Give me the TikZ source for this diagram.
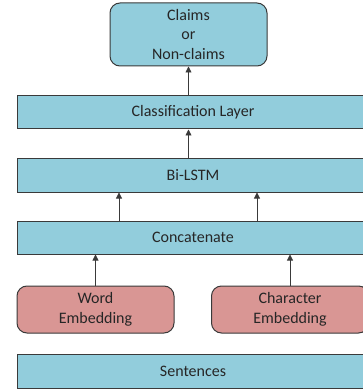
\documentclass[tikz,border=0pt]{standalone}
\usepackage{fontspec}
\setmainfont{Carlito}
\usetikzlibrary{arrows.meta}
\definecolor{boxblue}{HTML}{92CDDC}
\definecolor{boxpink}{HTML}{D99694}
\definecolor{edgegray}{HTML}{3A3A3A}
\definecolor{txt}{HTML}{262626}
\begin{document}
\begin{tikzpicture}[x=1pt,y=-1pt,
  layer/.style={draw=edgegray,line width=1pt,fill=boxblue,text=txt,font=\fontsize{16}{19.5}\selectfont,inner sep=0pt,align=center},
  emb/.style={draw=edgegray,line width=1pt,fill=boxpink,text=txt,rounded corners=10pt,font=\fontsize{16}{19.5}\selectfont,inner sep=0pt,align=center},
  arr/.style={draw=edgegray,line width=0.8pt,-{Triangle[width=6pt,length=6pt]}}]
\useasboundingbox (0,0) rectangle (363,390);
\clip (0,0) rectangle (363,390);
\fill[white] (0,0) rectangle (363,390);
\node[emb,fill=boxblue,minimum width=157pt,minimum height=63pt] (out) at (188.5,34.5) {Claims\\or\\Non-claims};
\node[layer,minimum width=352pt,minimum height=33pt] (cls) at (193,112.5) {Classification Layer};
\node[layer,minimum width=352pt,minimum height=34pt] (lstm) at (193,175) {Bi-LSTM};
\node[layer,minimum width=352pt,minimum height=33pt] (cat) at (193,237.5) {Concatenate};
\node[emb,minimum width=157pt,minimum height=47pt] (word) at (95.5,309.5) {Word\\Embedding};
\node[emb,minimum width=157pt,minimum height=47pt] (char) at (290,309.5) {Character\\Embedding};
\node[layer,minimum width=352pt,minimum height=34pt] (sent) at (193,371) {Sentences};
\draw[arr] (cls.north -| out.south) -- (out.south);
\draw[arr] (lstm.north -| out.south) -- (cls.south -| out.south);
\coordinate (c1) at (119,0);
\coordinate (c2) at (257,0);
\draw[arr] (cat.north -| c1) -- (lstm.south -| c1);
\draw[arr] (cat.north -| c2) -- (lstm.south -| c2);
\draw[arr] (word.north) -- (cat.south -| word.north);
\draw[arr] (char.north) -- (cat.south -| char.north);
\end{tikzpicture}
\end{document}
